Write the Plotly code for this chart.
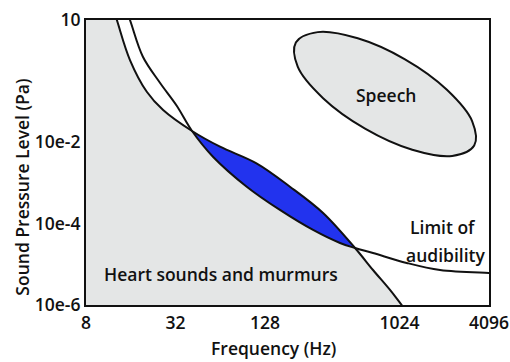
import numpy as np
import plotly.graph_objects as go

# Upper boundary of heart sounds and murmurs (frequency in Hz, pressure in Pa)
heart_freq = [10.7, 12.9, 15.8, 20.5, 26.4, 41.3, 63.7, 112, 188, 314, 515, 680, 885, 1060, 1720]
heart_spl = [96, 10, 1.04, 0.173, 0.0616, 0.0188, 0.00773, 0.00302, 0.000805, 0.000182,
             2.51e-5, 7.24e-6, 2.34e-6, 1.0e-6, 1.04e-7]

# Threshold of hearing (limit of audibility)
aud_freq = [12.7, 15.8, 19.3, 25.2, 32.5, 41.3, 57.1, 96.3, 161, 269, 408, 515, 680, 1146, 1919, 4096, 7730]
aud_spl = [96, 10, 1.255, 0.284, 0.0795, 0.0188, 0.00439, 0.000805, 0.000216, 6.96e-5,
           3.33e-5, 2.51e-5, 1.89e-5, 1.08e-5, 7.24e-6, 6.11e-6, 5.77e-6]

# Outline of the speech region
speech_freq = [3258, 2317, 1249, 601, 314, 212, 206, 289, 537, 1116, 2135, 3158]
speech_spl = [0.00828, 0.00459, 0.00652, 0.0215, 0.120, 0.713, 2.80, 5.04, 3.55, 1.08, 0.193, 0.0325]

# Axis ticks
x_ticks = [8, 32, 128, 1024, 4096]
y_ticks = [1e-6, 1e-4, 1e-2, 10]
y_tick_text = ["10e-6", "10e-4", "10e-2", "10"]

# Audible part of the heart sounds: between the two crossings of the curves
lens_heart_f, lens_heart_p = heart_freq[5:11], heart_spl[5:11]
lens_aud_f, lens_aud_p = aud_freq[5:12], aud_spl[5:12]

GRAY = "#e4e6e6"
BLUE = "#2233ee"
INK = "#111111"
FONT = "Open Sans"
SIZE = 17.5
WEIGHT = 600

fig = go.Figure()

# Heart sounds region (everything below/left of the heart curve)
fig.add_trace(go.Scatter(
    x=[2] + heart_freq + [heart_freq[-1], 2],
    y=[1000] + heart_spl + [1e-9, 1e-9],
    mode="lines", line=dict(width=0, shape="spline"),
    fill="toself", fillcolor=GRAY, hoverinfo="skip", showlegend=False))

# Audible heart sounds (blue lens)
fig.add_trace(go.Scatter(
    x=lens_aud_f, y=lens_aud_p, mode="lines",
    line=dict(width=0, shape="spline"), hoverinfo="skip", showlegend=False))
fig.add_trace(go.Scatter(
    x=lens_heart_f, y=lens_heart_p, mode="lines",
    line=dict(width=0, shape="spline"), fill="tonexty", fillcolor=BLUE,
    hoverinfo="skip", showlegend=False))

# Speech region
fig.add_trace(go.Scatter(
    x=speech_freq + speech_freq[:1], y=speech_spl + speech_spl[:1],
    mode="lines", line=dict(color=INK, width=2, shape="spline"),
    fill="toself", fillcolor=GRAY, hoverinfo="skip", showlegend=False))

# Boundary curves
fig.add_trace(go.Scatter(
    x=heart_freq, y=heart_spl, mode="lines",
    line=dict(color=INK, width=2, shape="spline"), showlegend=False))
fig.add_trace(go.Scatter(
    x=aud_freq, y=aud_spl, mode="lines",
    line=dict(color=INK, width=2, shape="spline"), showlegend=False))

text_font = dict(family=FONT, size=SIZE, color=INK, weight=WEIGHT)
fig.add_annotation(x=np.log10(844), y=np.log10(0.144), text="Speech",
                   showarrow=False, font=text_font)
fig.add_annotation(x=np.log10(10.2), y=np.log10(5.8e-6), text="Heart sounds and murmurs",
                   showarrow=False, xanchor="left", font=text_font)
fig.add_annotation(x=np.log10(1995), y=np.log10(8.2e-5), text="Limit of",
                   showarrow=False, font=text_font)
fig.add_annotation(x=np.log10(2074), y=np.log10(1.69e-5), text="audibility",
                   showarrow=False, font=text_font)

# Axis titles
fig.add_annotation(xref="paper", yref="paper", x=-0.159, y=0.415, text="Sound Pressure Level (Pa)",
                   textangle=-90, showarrow=False, xanchor="center", yanchor="middle",
                   font=text_font)
fig.add_annotation(xref="paper", yref="paper", x=0.465, y=-0.151, text="Frequency (Hz)",
                   showarrow=False, xanchor="center", yanchor="middle", font=text_font)

axis_common = dict(showline=True, linecolor=INK, linewidth=2, mirror=True,
                   showgrid=False, zeroline=False, ticks="", automargin=False,
                   tickfont=dict(family=FONT, size=SIZE, color=INK, weight=WEIGHT))

fig.update_xaxes(type="log", range=[np.log10(8), np.log10(4096)],
                 tickvals=x_ticks, ticktext=[str(v) for v in x_ticks],
                 ticklabelstandoff=1, **axis_common)
fig.update_yaxes(type="log", range=[-6, 1],
                 tickvals=y_ticks, ticktext=y_tick_text, **axis_common)

fig.update_layout(
    width=510, height=362,
    margin=dict(l=86, r=21, t=20, b=57),
    paper_bgcolor="white", plot_bgcolor="white",
    font=dict(family=FONT, size=SIZE, color=INK),
)

fig.write_html("out.html")
